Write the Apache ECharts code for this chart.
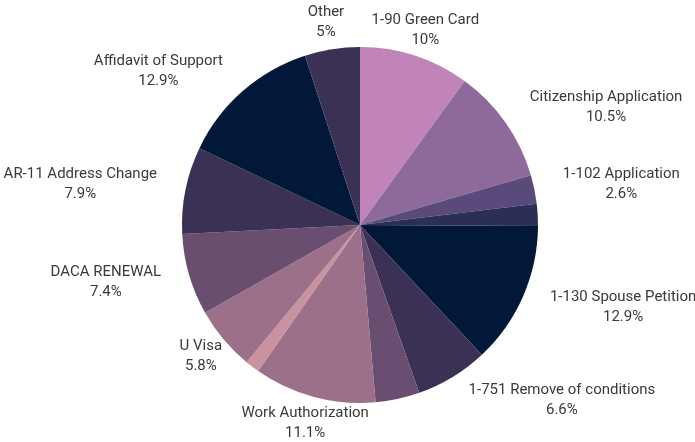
<!DOCTYPE html>
<html>
<head>
<meta charset="utf-8">
<style>
  html, body { margin: 0; padding: 0; background: #fff; }
  #main { width: 695px; height: 442px; }
</style>
<script src="https://cdn.jsdelivr.net/npm/echarts@6/dist/echarts.min.js"></script>
</head>
<body>
<div id="main"></div>
<script>
// slices, clockwise from 12 o'clock (empty name = slice without label)
var names = ['1-90 Green Card', 'Citizenship Application', '1-102 Application', '',
  '1-130 Spouse Petition', '1-751 Remove of conditions', '', 'Work Authorization', '',
  'U Visa', 'DACA RENEWAL', 'AR-11 Address Change', 'Affidavit of Support', 'Other']
var values = [10, 10.5, 2.6, 2.0, 12.9, 6.6, 4.0, 11.1, 1.3, 5.8, 7.4, 7.9, 12.9, 5]
var colors = ['#c084b8', '#8e699c', '#5a4a7b', '#2c2f55', '#021838', '#3a3154', '#6a4e72',
  '#9d708a', '#c8929e', '#9d708a', '#6a4e70', '#3a3154', '#021838', '#3a3154']

var cx = 360
var cy = 225
var radius = 178

var myChart = echarts.init(document.getElementById('main'))

var data = names.map(function (n, i) {
  return {
    name: n,
    value: values[i],
    itemStyle: { color: colors[i] },
    label: { show: n !== '' }
  }
})

function clamp (v, a, b) {
  return Math.max(a, Math.min(b, v))
}

var option = {
  animation: false,
  series: [
    {
      type: 'pie',
      center: [cx, cy],
      radius: radius,
      startAngle: 90,
      clockwise: true,
      avoidLabelOverlap: false,
      data: data,
      label: {
        position: 'outside',
        distanceToLabelLine: 2,
        formatter: function (p) {
          return '{n|' + p.name + '}\n{n|' + p.value + '%}'
        },
        rich: {
          n: {
            align: 'center',
            fontFamily: 'Roboto',
            fontSize: 15,
            lineHeight: 20,
            color: '#3a3a3a'
          }
        }
      },
      labelLine: {
        show: false,
        length: 27,
        length2: 0
      },
      // center the label on its anchor if it then still clears the pie
      labelLayout: function (p) {
        var r = p.labelRect
        var w = r.width
        var left = r.x
        if (p.align === 'left') left = r.x - w / 2
        else if (p.align === 'right') left = r.x + w / 2
        var nx = clamp(cx, left, left + w)
        var ny = clamp(cy, r.y, r.y + r.height)
        var d = Math.sqrt((nx - cx) * (nx - cx) + (ny - cy) * (ny - cy))
        if (d >= radius - 4) {
          return { align: 'center' }
        }
        return {}
      }
    }
  ]
}

myChart.setOption(option)
</script>
</body>
</html>
